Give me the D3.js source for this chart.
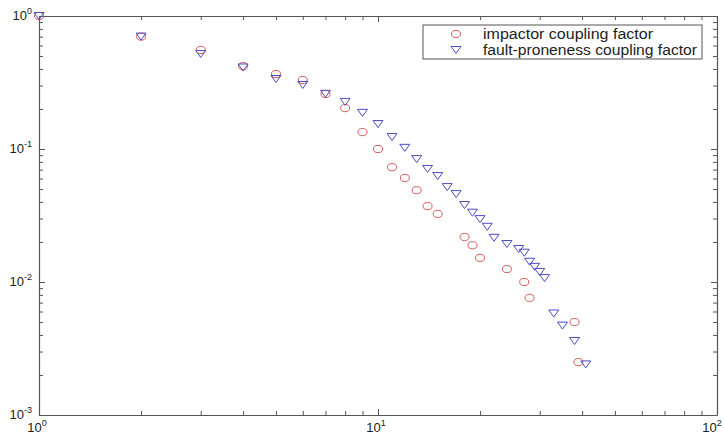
<!DOCTYPE html>
<html>
<head>
<style>
    body { margin: 0; background: #fff; }
    svg { display: block; font-family: "Liberation Sans", Arial, sans-serif; }
</style>
<script src="https://cdn.jsdelivr.net/npm/d3@7"></script>
</head>
<body>
<svg id="chart"></svg>
<script>
// impactor coupling factor (circles)
let impactorX = [1, 2, 3, 4, 5, 6, 7, 8, 9, 10, 11, 12, 13, 14, 15, 18, 19, 20, 24, 27, 28, 38, 39];
let impactorY = [1, 0.70, 0.555, 0.42, 0.366, 0.33, 0.259, 0.203, 0.134, 0.1, 0.073, 0.0606, 0.049, 0.0372,
                 0.0325, 0.0218, 0.0189, 0.0152, 0.0125, 0.0100, 0.0076, 0.0050, 0.0025];
// fault-proneness coupling factor (triangles)
let faultX = [1, 2, 3, 4, 5, 6, 7, 8, 9, 10, 11, 12, 13, 14, 15, 16, 17, 18, 19, 20, 21, 22, 24, 26, 27, 28,
              29, 30, 31, 33, 35, 38, 41];
let faultY = [1, 0.70, 0.518, 0.41, 0.336, 0.303, 0.26, 0.226, 0.187, 0.154, 0.123, 0.102, 0.084, 0.0708,
              0.0626, 0.0517, 0.0458, 0.0379, 0.0332, 0.0297, 0.026, 0.0215, 0.0193, 0.0177, 0.0166, 0.0142,
              0.013, 0.0119, 0.0107, 0.0058, 0.0047, 0.0036, 0.0024];
let seriesNames = ["impactor coupling factor", "fault-proneness coupling factor"];
let xTickExps = [0, 1, 2];
let yTickExps = [0, -1, -2, -3];

let width = 724, height = 435;
let margin = { top: 16, left: 39, right: 7, bottom: 20 };
let bodyW = width - margin.left - margin.right;
let bodyH = height - margin.top - margin.bottom;

let axisColor = "#555";
let red = "#d65c5c", blue = "#4b4bc6";

let svg = d3.select("#chart").attr("width", width).attr("height", height);

let x = d3.scaleLog().domain([1, 100]).range([margin.left, margin.left + bodyW]);
let y = d3.scaleLog().domain([0.001, 1]).range([margin.top + bodyH, margin.top]);

function isMajor(v) {
    let l = Math.log10(v);
    return Math.abs(l - Math.round(l)) < 1e-9;
}

function styleAxis(g) {
    g.select(".domain").attr("stroke", axisColor).attr("stroke-width", 1.2);
    g.selectAll(".tick line").attr("stroke", axisColor);
    g.selectAll(".tick text").remove();
}

// axes: ticks pointing into the box on all four sides
let xb = svg.append("g").attr("transform", `translate(0,${margin.top + bodyH})`)
    .call(d3.axisBottom(x).tickSizeOuter(0).tickFormat(""));
xb.selectAll(".tick line").attr("y2", d => isMajor(d) ? -6 : -4);
styleAxis(xb);

let xt = svg.append("g").attr("transform", `translate(0,${margin.top})`)
    .call(d3.axisTop(x).tickSizeOuter(0).tickFormat(""));
xt.selectAll(".tick line").attr("y2", d => isMajor(d) ? 6 : 4);
styleAxis(xt);

let yl = svg.append("g").attr("transform", `translate(${margin.left},0)`)
    .call(d3.axisLeft(y).tickSizeOuter(0).tickFormat(""));
yl.selectAll(".tick line").attr("x2", d => isMajor(d) ? 6 : 4);
styleAxis(yl);

let yr = svg.append("g").attr("transform", `translate(${margin.left + bodyW},0)`)
    .call(d3.axisRight(y).tickSizeOuter(0).tickFormat(""));
yr.selectAll(".tick line").attr("x2", d => isMajor(d) ? -6 : -4);
styleAxis(yr);

// tick labels with superscripts
function powLabel(sel, e) {
    sel.append("tspan").text("10");
    sel.append("tspan").attr("dy", -6).attr("font-size", 9).text(e);
}
xTickExps.forEach(e => {
    let px = Math.min(x(Math.pow(10, e)) - 2, width - 12);
    let t = svg.append("text")
        .attr("x", px)
        .attr("y", margin.top + bodyH + 17)
        .attr("text-anchor", "middle")
        .attr("font-size", 13).attr("fill", "#222");
    powLabel(t, e);
});
yTickExps.forEach(e => {
    let t = svg.append("text")
        .attr("x", 32)
        .attr("y", y(Math.pow(10, e)) + 4)
        .attr("text-anchor", "end")
        .attr("font-size", 13).attr("fill", "#222");
    powLabel(t, e);
});

// markers
function circleMark(g, cx, cy, color) {
    g.append("ellipse").attr("cx", cx).attr("cy", cy).attr("rx", 4.5).attr("ry", 3.6)
        .attr("fill", "none").attr("stroke", color).attr("stroke-width", 1);
}
function triMark(g, cx, cy, color) {
    g.append("path")
        .attr("d", `M${cx - 5},${cy - 3.5}L${cx + 5},${cy - 3.5}L${cx},${cy + 3.5}Z`)
        .attr("fill", "none").attr("stroke", color).attr("stroke-width", 1);
}

let marks = svg.append("g");
impactorX.forEach((v, i) => circleMark(marks, x(v), y(impactorY[i]), red));
faultX.forEach((v, i) => triMark(marks, x(v), y(faultY[i]), blue));

// legend
let lg = svg.append("g");
lg.append("rect").attr("x", 423).attr("y", 25).attr("width", 279).attr("height", 34)
    .attr("fill", "#fff").attr("stroke", axisColor).attr("stroke-width", 1);
circleMark(lg, 456, 34, red);
triMark(lg, 456, 50, blue);
let legendLen = [170, 214];
seriesNames.forEach((n, i) => {
    lg.append("text").attr("x", 483).attr("y", 38.5 + i * 16)
        .attr("font-size", 14).attr("fill", "#222")
        .attr("textLength", legendLen[i]).attr("lengthAdjust", "spacingAndGlyphs")
        .text(n);
});
</script>
</body>
</html>
